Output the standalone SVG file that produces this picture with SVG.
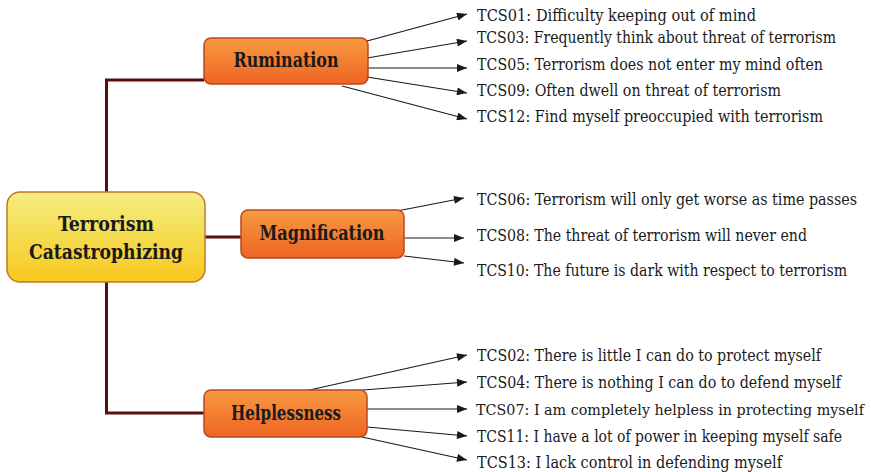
<svg xmlns="http://www.w3.org/2000/svg" width="871" height="472" viewBox="0 0 871 472">
<defs>
<linearGradient id="gRoot" x1="0" y1="0" x2="0" y2="1">
<stop offset="0" stop-color="#f3ee80"/>
<stop offset="1" stop-color="#f8c81e"/>
</linearGradient>
<linearGradient id="gSub" x1="0" y1="0" x2="0" y2="1">
<stop offset="0" stop-color="#f89a40"/>
<stop offset="1" stop-color="#ee6424"/>
</linearGradient>
<marker id="ah" viewBox="0 0 10 8" refX="10" refY="4" markerWidth="11" markerHeight="8" markerUnits="userSpaceOnUse" orient="auto">
<path d="M0,0 L10,4 L0,8 Z" fill="#1a1a1a"/>
</marker>
<style>
.root{fill:url(#gRoot);stroke:#c0782c;stroke-width:1.5}
.sub{fill:url(#gSub);stroke:#b8481a;stroke-width:1.5}
.lbl{font-family:'DejaVu Serif Condensed','DejaVu Serif',serif;font-weight:bold;fill:#1a1a1a;text-anchor:middle}
.item{font-family:'DejaVu Serif Condensed','DejaVu Serif',serif;font-size:16.5px;fill:#1a1a1a}
.trunk{fill:none;stroke:#5a0e0e;stroke-width:3}
.arr{fill:none;stroke:#1a1a1a;stroke-width:1.2;marker-end:url(#ah)}
</style>
</defs>
<rect width="871" height="472" fill="#ffffff"/>
<g id="connectors">
<path class="trunk" d="M204,80 H106.5 V192"/>
<path class="trunk" d="M106.5,282 V413 H204"/>
<path class="trunk" d="M205,237 H241"/>
<line class="arr" x1="367" y1="41" x2="467" y2="14"/>
<line class="arr" x1="367" y1="58" x2="467" y2="41"/>
<line class="arr" x1="367" y1="68" x2="467" y2="68"/>
<line class="arr" x1="367" y1="77" x2="467" y2="93"/>
<line class="arr" x1="342" y1="86" x2="467" y2="119"/>
<line class="arr" x1="397" y1="211" x2="464" y2="198"/>
<line class="arr" x1="404" y1="238" x2="464" y2="238"/>
<line class="arr" x1="404" y1="256" x2="464" y2="263"/>
<line class="arr" x1="305" y1="391" x2="467" y2="355"/>
<line class="arr" x1="350" y1="391" x2="467" y2="382"/>
<line class="arr" x1="367" y1="409" x2="467" y2="409"/>
<line class="arr" x1="367" y1="427" x2="467" y2="436"/>
<line class="arr" x1="362" y1="437" x2="467" y2="460"/>
</g>
<g id="root">
<rect class="root" x="7" y="192" width="198" height="90" rx="13"/>
<text class="lbl" x="106" y="231" font-size="21" textLength="96" lengthAdjust="spacingAndGlyphs">Terrorism</text>
<text class="lbl" x="106" y="259" font-size="21" textLength="154" lengthAdjust="spacingAndGlyphs">Catastrophizing</text>
</g>
<g id="rumination">
<rect class="sub" x="204" y="38" width="164" height="46" rx="7"/>
<text class="lbl" x="286" y="67" font-size="19.5" textLength="105" lengthAdjust="spacingAndGlyphs">Rumination</text>
</g>
<g id="magnification">
<rect class="sub" x="241" y="210" width="163" height="48" rx="7"/>
<text class="lbl" x="322" y="240" font-size="19.5" textLength="125" lengthAdjust="spacingAndGlyphs">Magnification</text>
</g>
<g id="helplessness">
<rect class="sub" x="204" y="390" width="163" height="47" rx="7"/>
<text class="lbl" x="286" y="420" font-size="19.5" textLength="110" lengthAdjust="spacingAndGlyphs">Helplessness</text>
</g>
<g id="items">
<text class="item" x="477" y="21" textLength="279" lengthAdjust="spacingAndGlyphs">TCS01: Difficulty keeping out of mind</text>
<text class="item" x="477" y="43" textLength="359" lengthAdjust="spacingAndGlyphs">TCS03: Frequently think about threat of terrorism</text>
<text class="item" x="477" y="70" textLength="346" lengthAdjust="spacingAndGlyphs">TCS05: Terrorism does not enter my mind often</text>
<text class="item" x="477" y="96" textLength="304" lengthAdjust="spacingAndGlyphs">TCS09: Often dwell on threat of terrorism</text>
<text class="item" x="477" y="122" textLength="346" lengthAdjust="spacingAndGlyphs">TCS12: Find myself preoccupied with terrorism</text>
<text class="item" x="477" y="205" textLength="380" lengthAdjust="spacingAndGlyphs">TCS06: Terrorism will only get worse as time passes</text>
<text class="item" x="477" y="241" textLength="330" lengthAdjust="spacingAndGlyphs">TCS08: The threat of terrorism will never end</text>
<text class="item" x="477" y="276" textLength="370" lengthAdjust="spacingAndGlyphs">TCS10: The future is dark with respect to terrorism</text>
<text class="item" x="477" y="361" textLength="344" lengthAdjust="spacingAndGlyphs">TCS02: There is little I can do to protect myself</text>
<text class="item" x="477" y="388" textLength="364" lengthAdjust="spacingAndGlyphs">TCS04: There is nothing I can do to defend myself</text>
<text class="item" x="476" y="415" font-size="15.5" style="font-size:15.5px" textLength="388" lengthAdjust="spacingAndGlyphs">TCS07: I am completely helpless in protecting myself</text>
<text class="item" x="477" y="442" textLength="365" lengthAdjust="spacingAndGlyphs">TCS11: I have a lot of power in keeping myself safe</text>
<text class="item" x="477" y="468" textLength="305" lengthAdjust="spacingAndGlyphs">TCS13: I lack control in defending myself</text>
</g>
</svg>
